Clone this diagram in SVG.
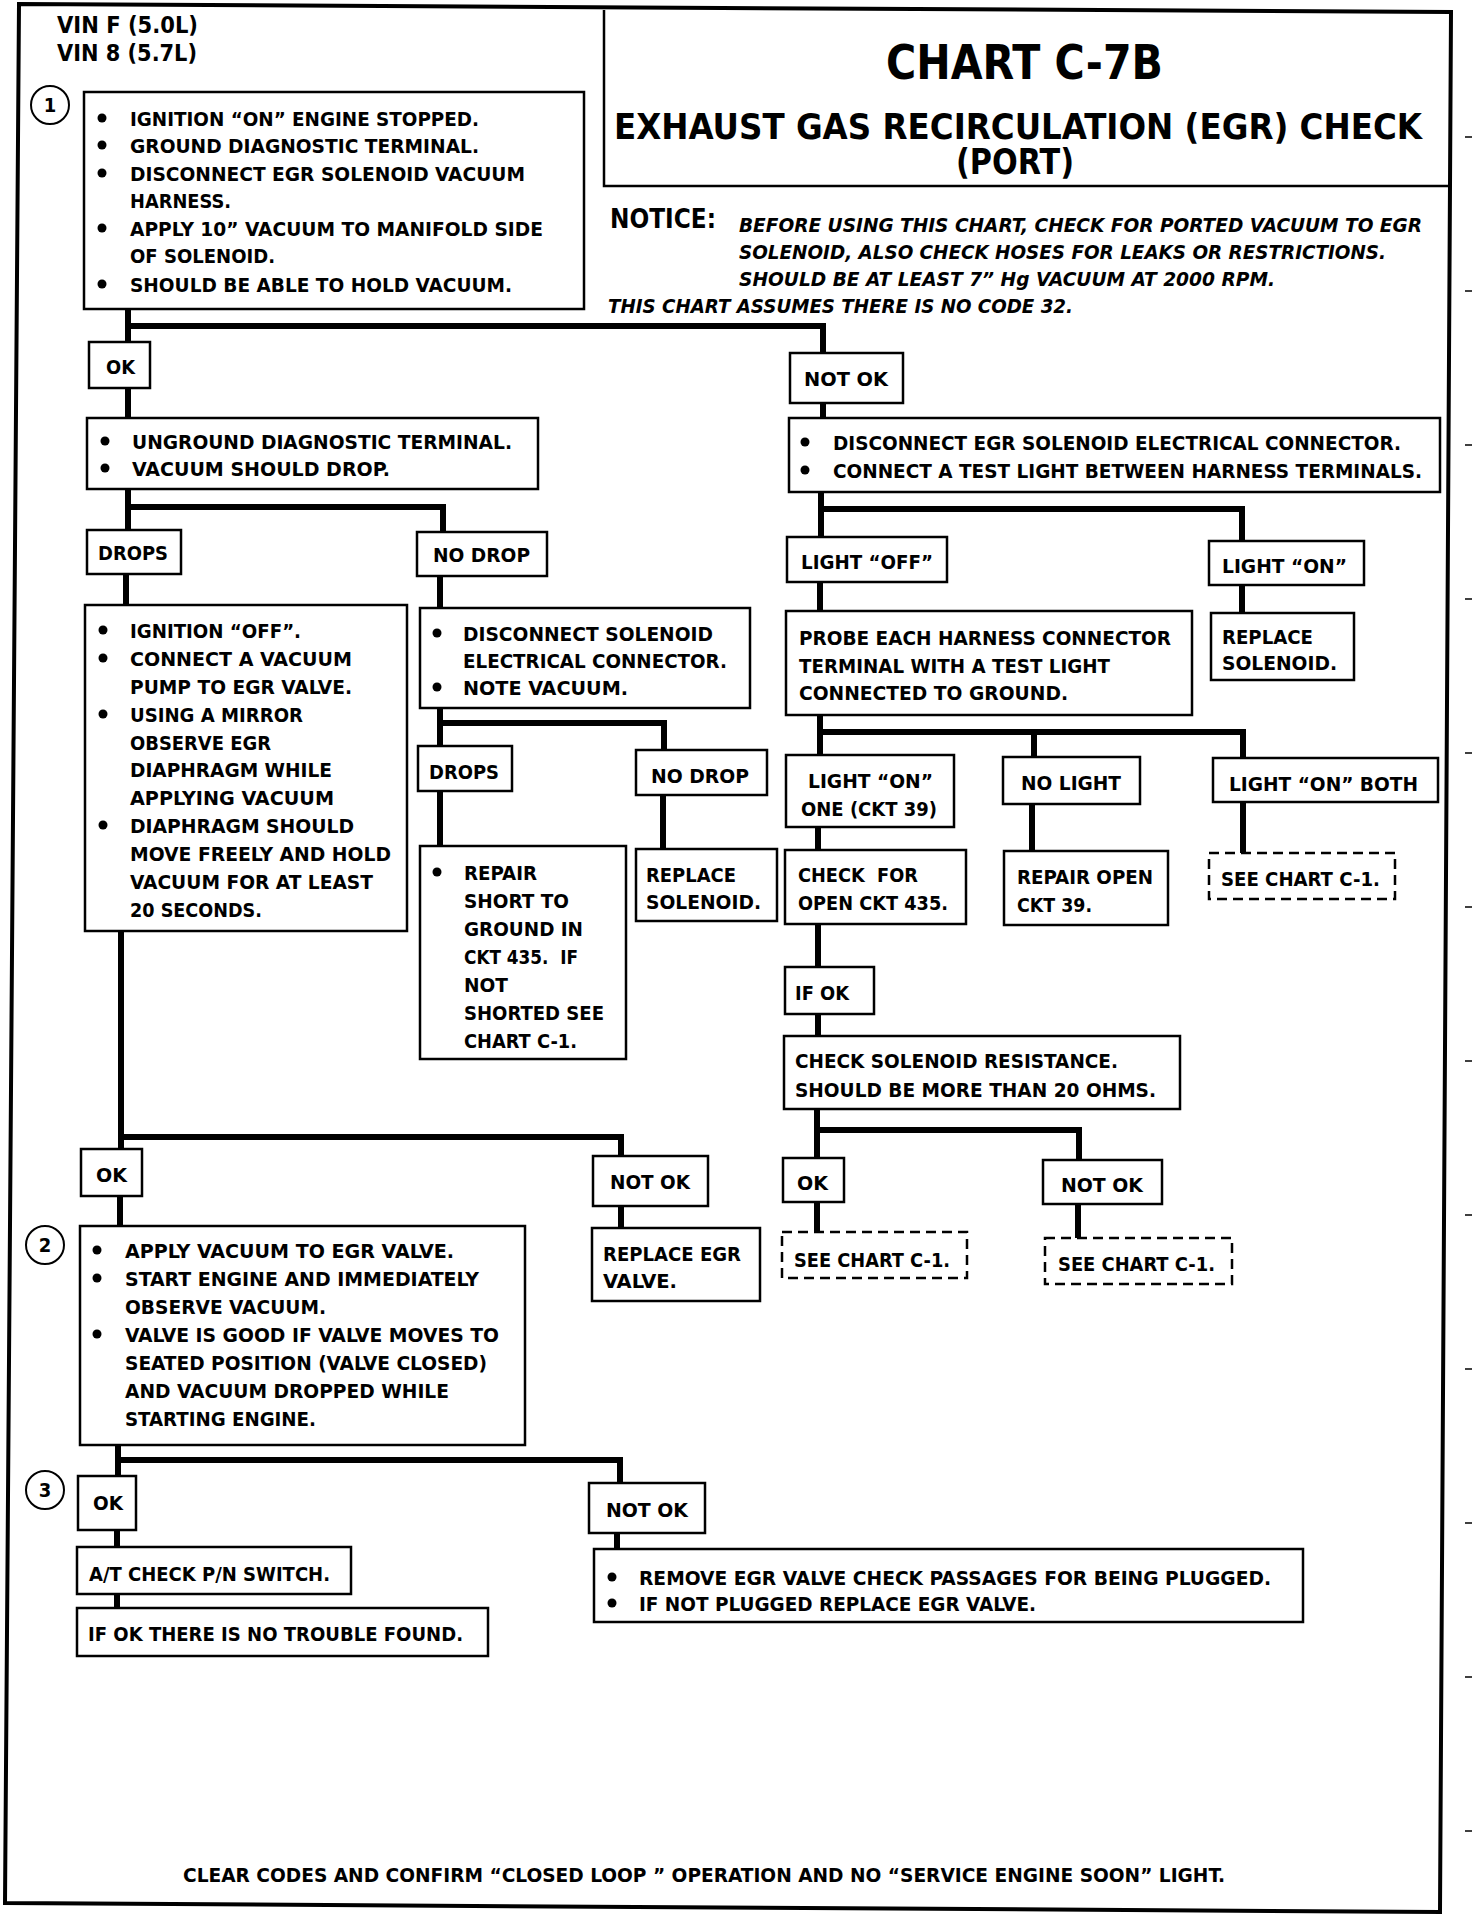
<svg xmlns="http://www.w3.org/2000/svg" width="1472" height="1918" viewBox="0 0 1472 1918">
<style>
.t{font-family:"Liberation Sans Narrow","DejaVu Sans Condensed","Liberation Sans",Arial,sans-serif;font-weight:bold;font-size:20px;fill:#000;white-space:pre}
.i{font-style:italic;font-size:19px}
.b{fill:#fff;stroke:#000;stroke-width:2.5}
.d{fill:#fff;stroke:#000;stroke-width:2.5;stroke-dasharray:10 6}
.c{fill:none;stroke:#000;stroke-width:6;stroke-linejoin:miter}
.dot{fill:#000}
.frame{fill:none;stroke:#000;stroke-width:4}
.tick{stroke:#000;stroke-width:1.5}
</style>
<rect x="0" y="0" width="1472" height="1918" fill="#fff"/>
<g id="frame">
<path class="frame" d="M19 4 L1451 12 L1440 1912 L5 1903 Z"/>
<path fill="none" stroke="#000" stroke-width="2.5" d="M604 10 V186 H1451"/>
<g class="tick">
<line x1="1465" y1="137" x2="1472" y2="137"/><line x1="1465" y1="291" x2="1472" y2="291"/>
<line x1="1465" y1="445" x2="1472" y2="445"/><line x1="1465" y1="599" x2="1472" y2="599"/>
<line x1="1465" y1="753" x2="1472" y2="753"/><line x1="1465" y1="907" x2="1472" y2="907"/>
<line x1="1465" y1="1061" x2="1472" y2="1061"/><line x1="1465" y1="1215" x2="1472" y2="1215"/>
<line x1="1465" y1="1369" x2="1472" y2="1369"/><line x1="1465" y1="1523" x2="1472" y2="1523"/>
<line x1="1465" y1="1677" x2="1472" y2="1677"/><line x1="1465" y1="1831" x2="1472" y2="1831"/>
</g>
</g>
<g id="header">
<text class="t" x="57" y="33" textLength="141" lengthAdjust="spacingAndGlyphs" style="font-size:23px">VIN F (5.0L)</text>
<text class="t" x="57" y="61" textLength="140" lengthAdjust="spacingAndGlyphs" style="font-size:23px">VIN 8 (5.7L)</text>
<text class="t" x="886" y="79" textLength="277" lengthAdjust="spacingAndGlyphs" style="font-size:48px">CHART C-7B</text>
<text class="t" x="614" y="139" textLength="808" lengthAdjust="spacingAndGlyphs" style="font-size:36px">EXHAUST GAS RECIRCULATION (EGR) CHECK</text>
<text class="t" x="956" y="174" textLength="118" lengthAdjust="spacingAndGlyphs" style="font-size:36px">(PORT)</text>
<text class="t" x="610" y="228" textLength="106" lengthAdjust="spacingAndGlyphs" style="font-size:27px">NOTICE:</text>
<text class="t i" x="739" y="232" textLength="683" lengthAdjust="spacingAndGlyphs">BEFORE USING THIS CHART, CHECK FOR PORTED VACUUM TO EGR</text>
<text class="t i" x="739" y="259" textLength="647" lengthAdjust="spacingAndGlyphs">SOLENOID, ALSO CHECK HOSES FOR LEAKS OR RESTRICTIONS.</text>
<text class="t i" x="739" y="286" textLength="536" lengthAdjust="spacingAndGlyphs">SHOULD BE AT LEAST 7” Hg VACUUM AT 2000 RPM.</text>
<text class="t i" x="608" y="313" textLength="465" lengthAdjust="spacingAndGlyphs">THIS CHART ASSUMES THERE IS NO CODE 32.</text>
</g>
<g id="connectors">
<path class="c" d="M128 310 V342 M128 326 H823 V353"/>
<path class="c" d="M128 388 V418"/>
<path class="c" d="M128 489 V530 M128 507 H443 V532"/>
<path class="c" d="M126 574 V605"/>
<path class="c" d="M440 576 V608"/>
<path class="c" d="M440 708 V746 M440 723 H664 V750"/>
<path class="c" d="M440 791 V846"/>
<path class="c" d="M663 795 V849"/>
<path class="c" d="M121 931 V1149 M121 1137 H621 V1156"/>
<path class="c" d="M120 1196 V1226"/>
<path class="c" d="M621 1206 V1228"/>
<path class="c" d="M118 1445 V1476 M118 1460 H620 V1483"/>
<path class="c" d="M117 1530 V1547"/>
<path class="c" d="M117 1594 V1608"/>
<path class="c" d="M617 1533 V1549"/>
<path class="c" d="M823 403 V418"/>
<path class="c" d="M821 492 V537 M821 509 H1242 V541"/>
<path class="c" d="M820 582 V611"/>
<path class="c" d="M1242 585 V613"/>
<path class="c" d="M820 715 V755 M820 732 H1243 V758 M1034 732 V757"/>
<path class="c" d="M818 827 V850"/>
<path class="c" d="M1032 804 V851"/>
<path class="c" d="M1243 802 V853"/>
<path class="c" d="M818 924 V967"/>
<path class="c" d="M818 1014 V1036"/>
<path class="c" d="M817 1109 V1158 M817 1130 H1079 V1160"/>
<path class="c" d="M817 1202 V1232"/>
<path class="c" d="M1078 1204 V1238"/>
</g>
<g id="step1">
<circle cx="50" cy="105" r="19" fill="#fff" stroke="#000" stroke-width="2"/>
<text class="t" x="50" y="112" text-anchor="middle">1</text>
</g>
<g id="box1">
<rect class="b" x="84" y="92" width="500" height="217"/>
<circle class="dot" cx="102" cy="118" r="4.5"/><circle class="dot" cx="102" cy="145" r="4.5"/><circle class="dot" cx="102" cy="173" r="4.5"/><circle class="dot" cx="102" cy="228" r="4.5"/><circle class="dot" cx="102" cy="284" r="4.5"/>
<text class="t" x="130" y="126" textLength="349" lengthAdjust="spacingAndGlyphs">IGNITION “ON” ENGINE STOPPED.</text>
<text class="t" x="130" y="153" textLength="349" lengthAdjust="spacingAndGlyphs">GROUND DIAGNOSTIC TERMINAL.</text>
<text class="t" x="130" y="181" textLength="395" lengthAdjust="spacingAndGlyphs">DISCONNECT EGR SOLENOID VACUUM</text>
<text class="t" x="130" y="208" textLength="101" lengthAdjust="spacingAndGlyphs">HARNESS.</text>
<text class="t" x="130" y="236" textLength="413" lengthAdjust="spacingAndGlyphs">APPLY 10” VACUUM TO MANIFOLD SIDE</text>
<text class="t" x="130" y="263" textLength="145" lengthAdjust="spacingAndGlyphs">OF SOLENOID.</text>
<text class="t" x="130" y="292" textLength="382" lengthAdjust="spacingAndGlyphs">SHOULD BE ABLE TO HOLD VACUUM.</text>
</g>
<g id="ok1"><rect class="b" x="89" y="342" width="61" height="46"/><text class="t" x="106" y="374" textLength="29" lengthAdjust="spacingAndGlyphs">OK</text></g>
<g id="notok1"><rect class="b" x="790" y="353" width="113" height="50"/><text class="t" x="804" y="386" textLength="84" lengthAdjust="spacingAndGlyphs">NOT OK</text></g>
<g id="unground">
<rect class="b" x="87" y="418" width="451" height="71"/>
<circle class="dot" cx="105" cy="441" r="4.5"/><circle class="dot" cx="105" cy="468" r="4.5"/>
<text class="t" x="132" y="449" textLength="380" lengthAdjust="spacingAndGlyphs">UNGROUND DIAGNOSTIC TERMINAL.</text>
<text class="t" x="132" y="476" textLength="258" lengthAdjust="spacingAndGlyphs">VACUUM SHOULD DROP.</text>
</g>
<g id="drops1"><rect class="b" x="87" y="530" width="94" height="44"/><text class="t" x="98" y="560" textLength="70" lengthAdjust="spacingAndGlyphs">DROPS</text></g>
<g id="nodrop1"><rect class="b" x="417" y="532" width="130" height="44"/><text class="t" x="433" y="562" textLength="97" lengthAdjust="spacingAndGlyphs">NO DROP</text></g>
<g id="ignoff">
<rect class="b" x="85" y="605" width="322" height="326"/>
<circle class="dot" cx="103" cy="630" r="4.5"/><circle class="dot" cx="103" cy="658" r="4.5"/><circle class="dot" cx="103" cy="714" r="4.5"/><circle class="dot" cx="103" cy="825" r="4.5"/>
<text class="t" x="130" y="638" textLength="171" lengthAdjust="spacingAndGlyphs">IGNITION “OFF”.</text>
<text class="t" x="130" y="666" textLength="222" lengthAdjust="spacingAndGlyphs">CONNECT A VACUUM</text>
<text class="t" x="130" y="694" textLength="222" lengthAdjust="spacingAndGlyphs">PUMP TO EGR VALVE.</text>
<text class="t" x="130" y="722" textLength="173" lengthAdjust="spacingAndGlyphs">USING A MIRROR</text>
<text class="t" x="130" y="750" textLength="141" lengthAdjust="spacingAndGlyphs">OBSERVE EGR</text>
<text class="t" x="130" y="777" textLength="202" lengthAdjust="spacingAndGlyphs">DIAPHRAGM WHILE</text>
<text class="t" x="130" y="805" textLength="204" lengthAdjust="spacingAndGlyphs">APPLYING VACUUM</text>
<text class="t" x="130" y="833" textLength="224" lengthAdjust="spacingAndGlyphs">DIAPHRAGM SHOULD</text>
<text class="t" x="130" y="861" textLength="261" lengthAdjust="spacingAndGlyphs">MOVE FREELY AND HOLD</text>
<text class="t" x="130" y="889" textLength="243" lengthAdjust="spacingAndGlyphs">VACUUM FOR AT LEAST</text>
<text class="t" x="130" y="917" textLength="132" lengthAdjust="spacingAndGlyphs">20 SECONDS.</text>
</g>
<g id="discsol">
<rect class="b" x="420" y="608" width="330" height="100"/>
<circle class="dot" cx="437" cy="633" r="4.5"/><circle class="dot" cx="437" cy="687" r="4.5"/>
<text class="t" x="463" y="641" textLength="250" lengthAdjust="spacingAndGlyphs">DISCONNECT SOLENOID</text>
<text class="t" x="463" y="668" textLength="264" lengthAdjust="spacingAndGlyphs">ELECTRICAL CONNECTOR.</text>
<text class="t" x="463" y="695" textLength="165" lengthAdjust="spacingAndGlyphs">NOTE VACUUM.</text>
</g>
<g id="drops2"><rect class="b" x="418" y="746" width="94" height="45"/><text class="t" x="429" y="779" textLength="70" lengthAdjust="spacingAndGlyphs">DROPS</text></g>
<g id="nodrop2"><rect class="b" x="636" y="750" width="131" height="45"/><text class="t" x="651" y="783" textLength="98" lengthAdjust="spacingAndGlyphs">NO DROP</text></g>
<g id="repair">
<rect class="b" x="420" y="846" width="206" height="213"/>
<circle class="dot" cx="437" cy="872" r="4.5"/>
<text class="t" x="464" y="880" textLength="73" lengthAdjust="spacingAndGlyphs">REPAIR</text>
<text class="t" x="464" y="908" textLength="105" lengthAdjust="spacingAndGlyphs">SHORT TO</text>
<text class="t" x="464" y="936" textLength="119" lengthAdjust="spacingAndGlyphs">GROUND IN</text>
<text class="t" x="464" y="964" textLength="114" lengthAdjust="spacingAndGlyphs">CKT 435.  IF</text>
<text class="t" x="464" y="992" textLength="44" lengthAdjust="spacingAndGlyphs">NOT</text>
<text class="t" x="464" y="1020" textLength="140" lengthAdjust="spacingAndGlyphs">SHORTED SEE</text>
<text class="t" x="464" y="1048" textLength="113" lengthAdjust="spacingAndGlyphs">CHART C-1.</text>
</g>
<g id="replsolL">
<rect class="b" x="636" y="849" width="141" height="72"/>
<text class="t" x="646" y="882" textLength="90" lengthAdjust="spacingAndGlyphs">REPLACE</text>
<text class="t" x="646" y="909" textLength="115" lengthAdjust="spacingAndGlyphs">SOLENOID.</text>
</g>
<g id="ok2"><rect class="b" x="81" y="1149" width="61" height="47"/><text class="t" x="96" y="1182" textLength="31" lengthAdjust="spacingAndGlyphs">OK</text></g>
<g id="notok2"><rect class="b" x="593" y="1156" width="115" height="50"/><text class="t" x="610" y="1189" textLength="80" lengthAdjust="spacingAndGlyphs">NOT OK</text></g>
<g id="replegr">
<rect class="b" x="592" y="1228" width="168" height="73"/>
<text class="t" x="603" y="1261" textLength="138" lengthAdjust="spacingAndGlyphs">REPLACE EGR</text>
<text class="t" x="603" y="1288" textLength="74" lengthAdjust="spacingAndGlyphs">VALVE.</text>
</g>
<g id="step2">
<circle cx="45" cy="1245" r="19" fill="#fff" stroke="#000" stroke-width="2"/>
<text class="t" x="45" y="1252" text-anchor="middle">2</text>
</g>
<g id="box2">
<rect class="b" x="80" y="1226" width="445" height="219"/>
<circle class="dot" cx="97" cy="1250" r="4.5"/><circle class="dot" cx="97" cy="1278" r="4.5"/><circle class="dot" cx="97" cy="1334" r="4.5"/>
<text class="t" x="125" y="1258" textLength="329" lengthAdjust="spacingAndGlyphs">APPLY VACUUM TO EGR VALVE.</text>
<text class="t" x="125" y="1286" textLength="354" lengthAdjust="spacingAndGlyphs">START ENGINE AND IMMEDIATELY</text>
<text class="t" x="125" y="1314" textLength="201" lengthAdjust="spacingAndGlyphs">OBSERVE VACUUM.</text>
<text class="t" x="125" y="1342" textLength="374" lengthAdjust="spacingAndGlyphs">VALVE IS GOOD IF VALVE MOVES TO</text>
<text class="t" x="125" y="1370" textLength="362" lengthAdjust="spacingAndGlyphs">SEATED POSITION (VALVE CLOSED)</text>
<text class="t" x="125" y="1398" textLength="324" lengthAdjust="spacingAndGlyphs">AND VACUUM DROPPED WHILE</text>
<text class="t" x="125" y="1426" textLength="191" lengthAdjust="spacingAndGlyphs">STARTING ENGINE.</text>
</g>
<g id="step3">
<circle cx="45" cy="1490" r="19" fill="#fff" stroke="#000" stroke-width="2"/>
<text class="t" x="45" y="1497" text-anchor="middle">3</text>
</g>
<g id="ok3"><rect class="b" x="78" y="1476" width="58" height="54"/><text class="t" x="93" y="1510" textLength="30" lengthAdjust="spacingAndGlyphs">OK</text></g>
<g id="notok3"><rect class="b" x="589" y="1483" width="116" height="50"/><text class="t" x="606" y="1517" textLength="82" lengthAdjust="spacingAndGlyphs">NOT OK</text></g>
<g id="atcheck"><rect class="b" x="77" y="1547" width="274" height="47"/><text class="t" x="89" y="1581" textLength="241" lengthAdjust="spacingAndGlyphs">A/T CHECK P/N SWITCH.</text></g>
<g id="ifokthere"><rect class="b" x="77" y="1608" width="411" height="48"/><text class="t" x="88" y="1641" textLength="375" lengthAdjust="spacingAndGlyphs">IF OK THERE IS NO TROUBLE FOUND.</text></g>
<g id="remove">
<rect class="b" x="594" y="1549" width="709" height="73"/>
<circle class="dot" cx="612" cy="1577" r="4.5"/><circle class="dot" cx="612" cy="1603" r="4.5"/>
<text class="t" x="639" y="1585" textLength="632" lengthAdjust="spacingAndGlyphs">REMOVE EGR VALVE CHECK PASSAGES FOR BEING PLUGGED.</text>
<text class="t" x="639" y="1611" textLength="397" lengthAdjust="spacingAndGlyphs">IF NOT PLUGGED REPLACE EGR VALVE.</text>
</g>
<g id="discegr">
<rect class="b" x="789" y="418" width="651" height="74"/>
<circle class="dot" cx="805" cy="442" r="4.5"/><circle class="dot" cx="805" cy="470" r="4.5"/>
<text class="t" x="833" y="450" textLength="568" lengthAdjust="spacingAndGlyphs">DISCONNECT EGR SOLENOID ELECTRICAL CONNECTOR.</text>
<text class="t" x="833" y="478" textLength="589" lengthAdjust="spacingAndGlyphs">CONNECT A TEST LIGHT BETWEEN HARNESS TERMINALS.</text>
</g>
<g id="lightoff"><rect class="b" x="787" y="537" width="160" height="45"/><text class="t" x="801" y="569" textLength="132" lengthAdjust="spacingAndGlyphs">LIGHT “OFF”</text></g>
<g id="lighton"><rect class="b" x="1209" y="541" width="155" height="44"/><text class="t" x="1222" y="573" textLength="125" lengthAdjust="spacingAndGlyphs">LIGHT “ON”</text></g>
<g id="probe">
<rect class="b" x="786" y="611" width="406" height="104"/>
<text class="t" x="799" y="645" textLength="372" lengthAdjust="spacingAndGlyphs">PROBE EACH HARNESS CONNECTOR</text>
<text class="t" x="799" y="673" textLength="311" lengthAdjust="spacingAndGlyphs">TERMINAL WITH A TEST LIGHT</text>
<text class="t" x="799" y="700" textLength="269" lengthAdjust="spacingAndGlyphs">CONNECTED TO GROUND.</text>
</g>
<g id="replsolR">
<rect class="b" x="1211" y="613" width="143" height="67"/>
<text class="t" x="1222" y="644" textLength="91" lengthAdjust="spacingAndGlyphs">REPLACE</text>
<text class="t" x="1222" y="670" textLength="115" lengthAdjust="spacingAndGlyphs">SOLENOID.</text>
</g>
<g id="lightonone">
<rect class="b" x="786" y="755" width="168" height="72"/>
<text class="t" x="808" y="788" textLength="125" lengthAdjust="spacingAndGlyphs">LIGHT “ON”</text>
<text class="t" x="801" y="816" textLength="136" lengthAdjust="spacingAndGlyphs">ONE (CKT 39)</text>
</g>
<g id="nolight"><rect class="b" x="1003" y="757" width="137" height="47"/><text class="t" x="1021" y="790" textLength="100" lengthAdjust="spacingAndGlyphs">NO LIGHT</text></g>
<g id="lightonboth"><rect class="b" x="1213" y="758" width="225" height="44"/><text class="t" x="1229" y="791" textLength="189" lengthAdjust="spacingAndGlyphs">LIGHT “ON” BOTH</text></g>
<g id="checkfor">
<rect class="b" x="785" y="850" width="181" height="74"/>
<text class="t" x="798" y="882" textLength="120" lengthAdjust="spacingAndGlyphs">CHECK  FOR</text>
<text class="t" x="798" y="910" textLength="150" lengthAdjust="spacingAndGlyphs">OPEN CKT 435.</text>
</g>
<g id="repairopen">
<rect class="b" x="1004" y="851" width="164" height="74"/>
<text class="t" x="1017" y="884" textLength="136" lengthAdjust="spacingAndGlyphs">REPAIR OPEN</text>
<text class="t" x="1017" y="912" textLength="75" lengthAdjust="spacingAndGlyphs">CKT 39.</text>
</g>
<g id="seechartA"><rect class="d" x="1209" y="853" width="186" height="46"/><text class="t" x="1221" y="886" textLength="159" lengthAdjust="spacingAndGlyphs">SEE CHART C-1.</text></g>
<g id="ifok"><rect class="b" x="785" y="967" width="89" height="47"/><text class="t" x="795" y="1000" textLength="54" lengthAdjust="spacingAndGlyphs">IF OK</text></g>
<g id="checksol">
<rect class="b" x="784" y="1036" width="396" height="73"/>
<text class="t" x="795" y="1068" textLength="323" lengthAdjust="spacingAndGlyphs">CHECK SOLENOID RESISTANCE.</text>
<text class="t" x="795" y="1097" textLength="361" lengthAdjust="spacingAndGlyphs">SHOULD BE MORE THAN 20 OHMS.</text>
</g>
<g id="okR"><rect class="b" x="783" y="1158" width="61" height="44"/><text class="t" x="797" y="1190" textLength="31" lengthAdjust="spacingAndGlyphs">OK</text></g>
<g id="notokR"><rect class="b" x="1043" y="1160" width="119" height="44"/><text class="t" x="1061" y="1192" textLength="82" lengthAdjust="spacingAndGlyphs">NOT OK</text></g>
<g id="seechartB"><rect class="d" x="782" y="1232" width="185" height="46"/><text class="t" x="794" y="1267" textLength="156" lengthAdjust="spacingAndGlyphs">SEE CHART C-1.</text></g>
<g id="seechartC"><rect class="d" x="1045" y="1238" width="187" height="46"/><text class="t" x="1058" y="1271" textLength="157" lengthAdjust="spacingAndGlyphs">SEE CHART C-1.</text></g>
<g id="footer">
<text class="t" x="183" y="1882" textLength="1042" lengthAdjust="spacingAndGlyphs">CLEAR CODES AND CONFIRM “CLOSED LOOP ” OPERATION AND NO “SERVICE ENGINE SOON” LIGHT.</text>
</g>
</svg>
